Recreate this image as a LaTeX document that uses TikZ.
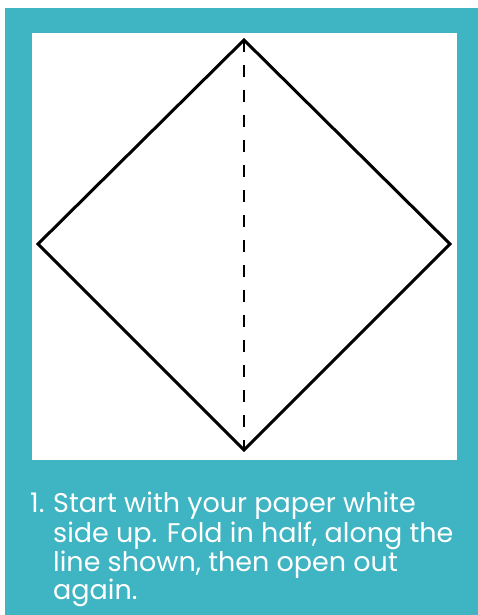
\documentclass[tikz,border=0pt]{standalone}
\usepackage{fontspec}
\setmainfont{Poppins}
\definecolor{panelteal}{RGB}{63,180,194}

\begin{document}
\begin{tikzpicture}[x=1pt, y=-1pt,
  fold/.style={line width=3pt, line join=miter},
  crease/.style={line width=2.6pt, dash pattern=on 12pt off 13pt},
  steptext/.style={anchor=base west, text=white, inner sep=0pt, font=\fontsize{27}{30}\selectfont}]
  % page and panel
  \useasboundingbox (0,0) rectangle (478,615);
  \fill[white] (0,0) rectangle (478,615);
  \fill[panelteal] (5,8) rectangle (478,615);
  \fill[white] (32,33) rectangle (457,460);

  % square paper turned as a diamond
  \coordinate (top) at (244,40);
  \coordinate (right) at (450,244);
  \coordinate (bottom) at (244,450);
  \coordinate (left) at (38,244);
  \draw[fold] (top) -- (right) -- (bottom) -- (left) -- cycle;
  \draw[crease] (top) -- (bottom);

  % instruction
  \node[steptext] (num) at (30,512) {1.};
  \node[steptext] (line1) at (53,512) {Start with your paper white};
  \node[steptext] (line2) at (53,542) {side up. Fold in half, along the};
  \node[steptext] (line3) at (53,571) {line shown, then open out};
  \node[steptext] (line4) at (53,599) {again.};
\end{tikzpicture}
\end{document}
